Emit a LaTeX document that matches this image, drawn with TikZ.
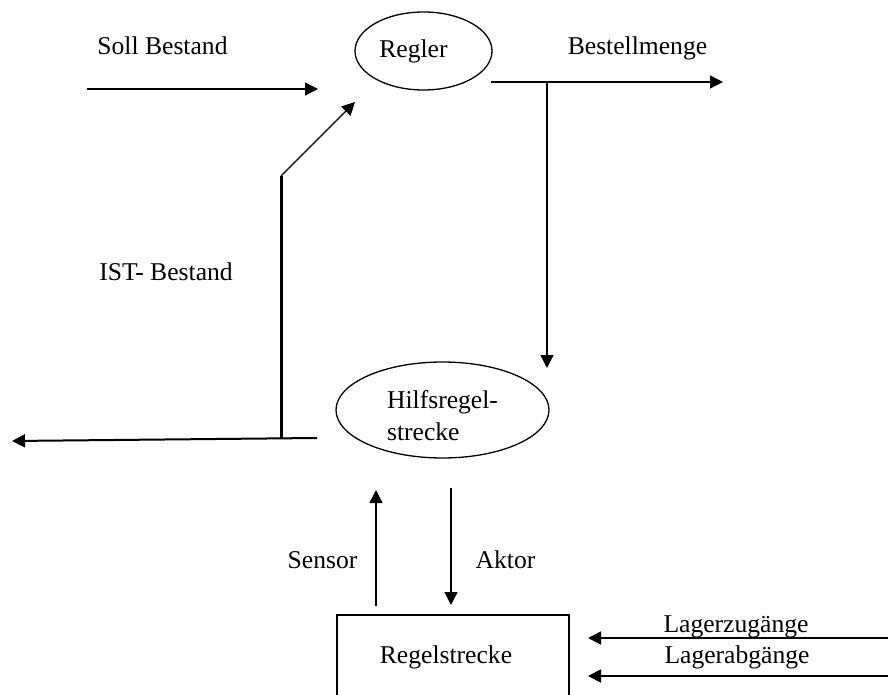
\documentclass[tikz,border=0pt]{standalone}
\usepackage{fontspec}
\setmainfont{Liberation Serif}
\usetikzlibrary{shapes.geometric,arrows.meta}
\begin{document}
\begin{tikzpicture}[x=1pt,y=-1pt,
  every node/.style={font=\fontsize{25.6}{32}\selectfont},
  lbl/.style={anchor=base,inner sep=0pt},
  ell/.style={draw,ellipse,line width=1.3pt,inner sep=0pt},
  arr/.style={line width=1.4pt,-{Triangle[length=13pt,width=13pt]}},
  ln/.style={line width=1.4pt}]
\clip (0,0) rectangle (888,695);
\fill[white] (0,0) rectangle (888,695);
% nodes
\node[ell,minimum width=137pt,minimum height=78pt] (regler) at (423.5,51) {Regler\kern20pt};
\node[ell,minimum width=213pt,minimum height=96pt,align=left] (hilf) at (442.5,410) {\rule{0pt}{29pt}Hilfsregel-\\strecke\kern14pt};
\node[draw,rectangle,line width=1.4pt,minimum width=232pt,minimum height=84pt,inner sep=0pt] (strecke) at (453,657) {Regelstrecke\kern14pt};
% labels
\node[lbl] (soll) at (162.5,55) {Soll Bestand};
\node[lbl] (bestell) at (637.5,55) {Bestellmenge};
\node[lbl] (ist) at (166,280) {IST- Bestand};
\node[lbl] (sensor) at (322.5,568) {Sensor};
\node[lbl] (aktor) at (505.5,568) {Aktor};
\node[lbl] (zu) at (736,632) {Lagerzugänge};
\node[lbl] (ab) at (737,663) {Lagerabgänge};
% coordinates
\coordinate (sollA) at (87,89);
\coordinate (sollB) at (318,89);
\coordinate (istR) at (317,438);
\coordinate (istJ) at (281,438);
\coordinate (istL) at (12,441);
\coordinate (istK) at (281,176);
\coordinate (istT) at (355,102);
\coordinate (bA) at (491,82);
\coordinate (bB) at (723,82);
\coordinate (bJ) at (547,82);
\coordinate (bD) at (547,368);
\coordinate (sA) at (376,606);
\coordinate (sB) at (376,490);
\coordinate (aA) at (451,488);
\coordinate (aB) at (451,605);
\coordinate (zA) at (890,638);
\coordinate (zB) at (588,638);
\coordinate (abA) at (890,676);
\coordinate (abB) at (588,676);
% connectors
\draw[arr] (sollA) -- (sollB);
\draw[arr,line width=2pt] (istR) -- (istL);
\draw[line width=3pt] (istJ) -- (istK);
\draw[arr] (istK) -- (istT);
\draw[arr] (bA) -- (bB);
\draw[arr] (bJ) -- (bD);
\draw[arr] (sA) -- (sB);
\draw[arr] (aA) -- (aB);
\draw[arr,line width=1.8pt] (zA) -- (zB);
\draw[arr,line width=1.8pt] (abA) -- (abB);
\end{tikzpicture}
\end{document}
